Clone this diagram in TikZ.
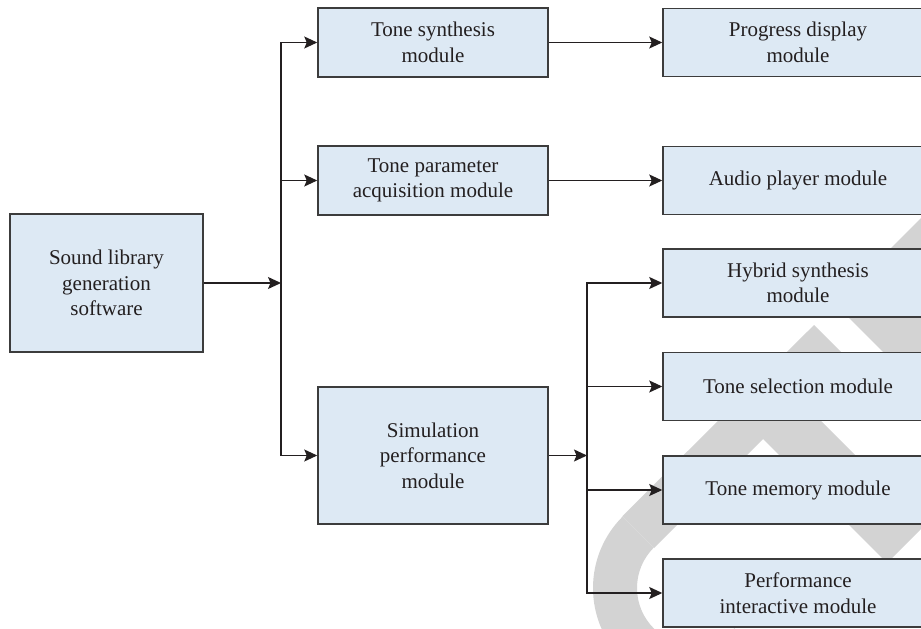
\documentclass[tikz,border=0pt]{standalone}
\usepackage{fontspec}
\setmainfont{Liberation Serif}
\usepackage{tikz}
\usetikzlibrary{arrows.meta,positioning,calc}
\definecolor{boxfill}{RGB}{221,233,244}
\definecolor{boxline}{RGB}{60,60,60}
\definecolor{inkdark}{RGB}{35,31,32}
\definecolor{markgray}{RGB}{211,211,211}

\begin{document}
\begin{tikzpicture}[
  x=1pt, y=-1pt,
  box/.style={draw=boxline, fill=boxfill, line width=1.5pt, align=center, inner sep=0pt, text=inkdark, font=\fontsize{21}{25.5}\selectfont},
  left box/.style={box, minimum width=230pt, minimum height=69pt},
  right box/.style={box, minimum width=270pt, minimum height=68pt},
  link/.style={draw=inkdark, line width=1.3pt, -{Stealth[length=13pt,width=12pt,inset=2.5pt]}},
  bus/.style={draw=inkdark, line width=1.3pt, line cap=rect}
]
\useasboundingbox (0,0) rectangle (921,629);
\begin{scope}
  \clip (0,0) rectangle (921,629);
  \fill[markgray] (1000,139) -- (835,304) -- (1000,469) -- cycle;
  \fill[markgray] (814,325) -- (845.5,356.5) -- (654,548) -- (622.3,516.3) -- cycle;
  \fill[markgray] (769.5,369.5) -- (925,525) -- (887,563) -- (763,439) -- cycle;
  \begin{scope}
    \clip (394,288) -- (994,888) -- (394,888) -- cycle;
    \fill[markgray, even odd rule] (694,588) circle[radius=101pt] (694,588) circle[radius=57pt];
  \end{scope}
\end{scope}

\node[box, minimum width=193pt, minimum height=138pt] (soft) at (106.5,283) {Sound library\\generation\\software};
\node[left box] (synth) at (433,42.5) {Tone synthesis\\module};
\node[left box] (param) at (433,180.5) {Tone parameter\\acquisition module};
\node[left box, minimum height=137pt] (sim) at (433,455.5) {Simulation\\performance\\module};
\node[right box] (prog) at (798,42.5) {Progress display\\module};
\node[right box] (audio) at (798,180.5) {Audio player module};
\node[right box] (hybrid) at (798,283) {Hybrid synthesis\\module};
\node[right box] (select) at (798,386.5) {Tone selection module};
\node[right box] (memory) at (798,490) {Tone memory module};
\node[right box] (perf) at (798,593) {Performance\\interactive module};

\coordinate (fork1) at (281,283);
\coordinate (fork2) at (587,455.5);
\draw[link] (soft) -- (fork1);
\draw[bus] (fork1 |- synth) -- (fork1 |- sim);
\foreach \n in {synth,param,sim} \draw[link] (fork1 |- \n) -- (\n);
\draw[link] (synth) -- (prog);
\draw[link] (param) -- (audio);
\draw[link] (sim) -- (fork2);
\draw[bus] (fork2 |- hybrid) -- (fork2 |- perf);
\foreach \n in {hybrid,select,memory,perf} \draw[link] (fork2 |- \n) -- (\n);
\end{tikzpicture}
\end{document}
